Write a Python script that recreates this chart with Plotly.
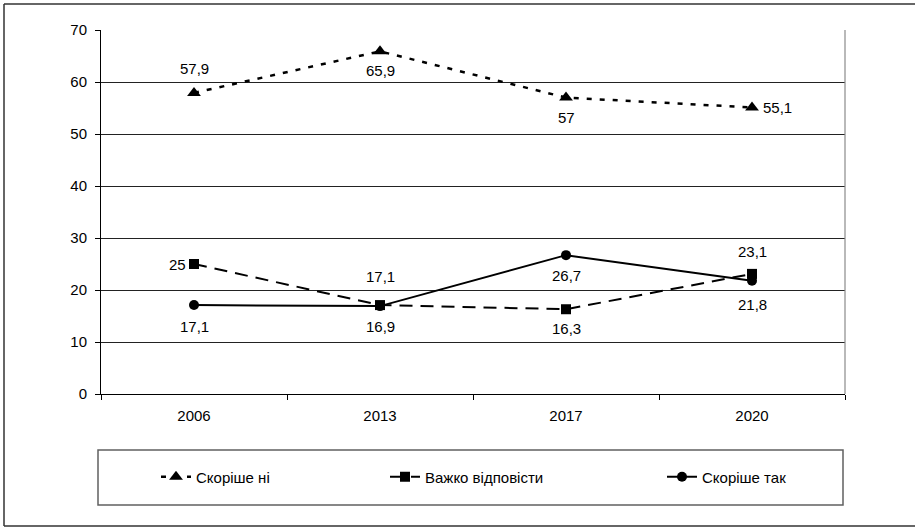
import plotly.graph_objects as go

years = ["2006", "2013", "2017", "2020"]
series_names = ["Скоріше ні", "Важко відповісти", "Скоріше так"]
skorishe_ni = [57.9, 65.9, 57.0, 55.1]
vazhko = [25.0, 17.1, 16.3, 23.1]
skorishe_tak = [17.1, 16.9, 26.7, 21.8]

W, H = 915, 528
L, R, T, B = 101, 70, 30, 134
PW, PH = W - L - R, H - T - B

def px_x(x):
    return (x - L) / PW

def px_y(y):
    return (H - B - y) / PH

FONT = "Liberation Sans, Arial, sans-serif"
FS = 15

styles = [
    dict(dash="5px,8px", symbol="triangle-up", size=12, width=2.5,
         offs=[(0, -24), (0, 19), (0, 20), (25, 0)]),
    dict(dash="13px,8px", symbol="square", size=10, width=2,
         offs=[(-17, 0), (0, -29), (0, 19), (0, -22)]),
    dict(dash="solid", symbol="circle", size=10, width=2,
         offs=[(0, 21), (0, 20), (0, 20), (0, 24)]),
]
data = [skorishe_ni, vazhko, skorishe_tak]
legend_ids = ["legend", "legend2", "legend3"]
legend_x_px = [156, 385, 662]

fig = go.Figure()
for name, vals, st, lg in zip(series_names, data, styles, legend_ids):
    fig.add_trace(go.Scatter(
        x=years, y=vals, name=name, mode="lines+markers",
        line=dict(color="black", width=st["width"], dash=st["dash"]),
        marker=dict(color="black", symbol=st["symbol"], size=st["size"]),
        legend=lg, cliponaxis=False, hoverinfo="skip",
    ))

# data labels: category axis positions are the serial index of each year
for vals, st in zip(data, styles):
    for i, (yv, (dx, dy)) in enumerate(zip(vals, st["offs"])):
        txt = ("%g" % yv).replace(".", ",")
        fig.add_annotation(
            x=i, y=yv, xref="x", yref="y", text=txt, showarrow=False,
            xshift=dx, yshift=-dy,
            font=dict(family=FONT, size=FS, color="black"),
        )

border = dict(color="#333333", width=1.5)
shapes = [
    # outer chart frame (right edge lies outside the picture)
    dict(type="line", xref="paper", yref="paper",
         x0=px_x(4), x1=px_x(4), y0=px_y(526), y1=px_y(4), line=border),
    dict(type="line", xref="paper", yref="paper",
         x0=px_x(4), x1=px_x(915), y0=px_y(4), y1=px_y(4), line=border),
    dict(type="line", xref="paper", yref="paper",
         x0=px_x(4), x1=px_x(915), y0=px_y(526), y1=px_y(526), line=border),
    # right plot border
    dict(type="line", xref="paper", yref="paper", x0=1, x1=1, y0=0, y1=1,
         line=dict(color="#8a8a8a", width=1.2)),
    # legend box
    dict(type="rect", xref="paper", yref="paper",
         x0=px_x(98), x1=px_x(843), y0=px_y(505), y1=px_y(450),
         line=dict(color="#606060", width=1.5)),
]
for s in shapes:
    fig.add_shape(**s)

for lg, lx in zip(legend_ids, legend_x_px):
    fig.update_layout({lg: dict(
        x=px_x(lx), y=px_y(477), xanchor="left", yanchor="middle",
        orientation="h", bgcolor="rgba(0,0,0,0)", borderwidth=0,
        font=dict(family=FONT, size=FS, color="black"),
        itemwidth=30,
    )})

fig.update_layout(
    width=W, height=H,
    margin=dict(l=L, r=R, t=T, b=B, pad=0),
    paper_bgcolor="white", plot_bgcolor="white",
    font=dict(family=FONT, size=FS, color="black"),
    showlegend=True,
    xaxis=dict(
        type="category", range=[-0.5, 3.5], tickson="boundaries",
        showgrid=False, showline=True, linecolor="black", linewidth=1,
        ticks="outside", ticklen=5, tickcolor="black", tickwidth=1,
        ticklabelstandoff=8, tickfont=dict(family=FONT, size=FS),
        zeroline=False, fixedrange=True,
    ),
    yaxis=dict(
        range=[0, 70], dtick=10, tick0=0,
        showgrid=True, gridcolor="#222222", gridwidth=1,
        showline=True, linecolor="black", linewidth=1,
        ticks="outside", ticklen=5, tickcolor="black", tickwidth=1,
        ticklabelstandoff=5, tickfont=dict(family=FONT, size=FS),
        zeroline=False, fixedrange=True,
    ),
)

fig.write_html(
    "out.html",
    config={"displayModeBar": False, "staticPlot": True},
    post_script="document.body.style.margin='0px';document.body.style.overflow='hidden';",
)
